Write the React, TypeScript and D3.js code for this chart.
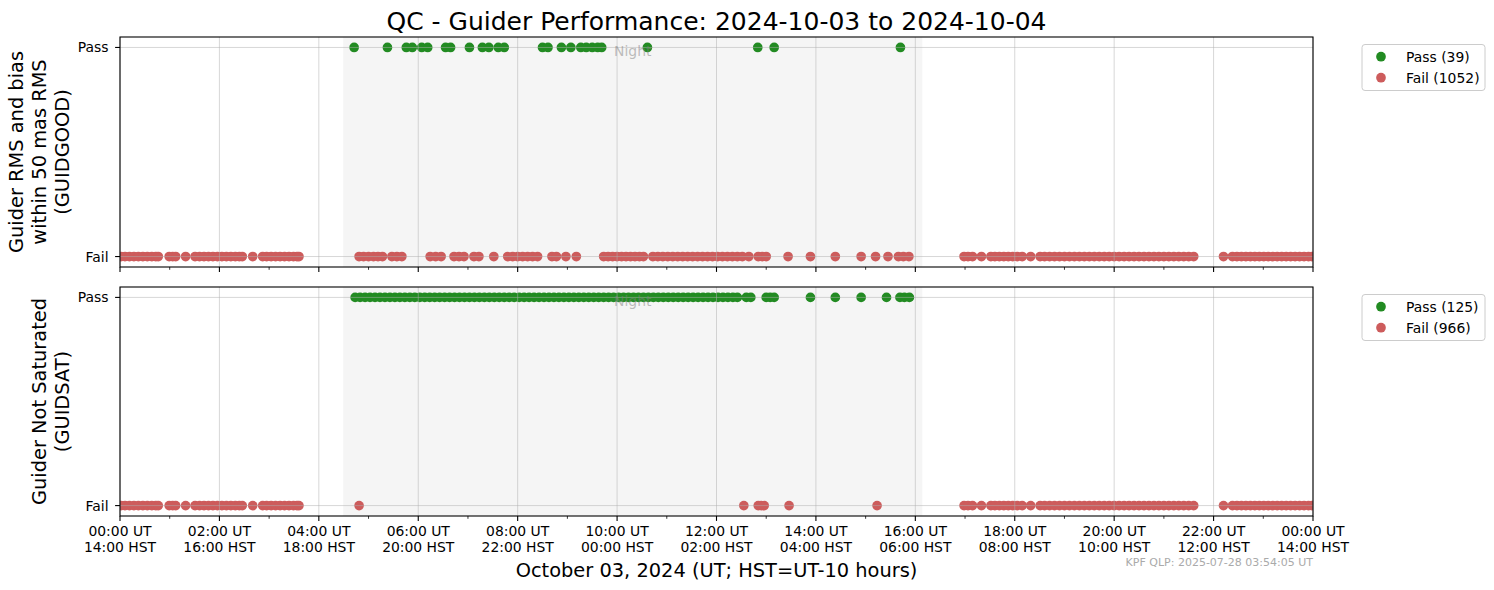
import React from "react";
import * as d3 from "d3";

// Observation times in hours UT (2024-10-03)
// Daytime (dome closed) failures, common to both checks
const dayFailTimes = [
  0.02, 0.1, 0.19, 0.28, 0.37, 0.46, 0.55, 0.64, 0.72, 0.77,
  0.99, 1.06, 1.12, 1.32,
  1.51, 1.6, 1.69, 1.78, 1.87, 1.96, 2.05, 2.14, 2.23, 2.32, 2.4, 2.46,
  2.67,
  2.87, 2.95, 3.04, 3.13, 3.22, 3.31, 3.4, 3.49, 3.56, 3.6,
  16.98, 17.06, 17.15, 17.33,
  17.52, 17.6, 17.69, 17.78, 17.87, 17.96, 18.05, 18.15, 18.32,
  18.51, 18.6, 18.7, 18.8, 18.9, 19.0, 19.1, 19.2, 19.3, 19.4, 19.5, 19.6,
  19.7, 19.8, 19.9, 20.0, 20.1, 20.2, 20.3, 20.4, 20.5, 20.6, 20.7, 20.8,
  20.9, 21.0, 21.1, 21.2, 21.3, 21.4, 21.5, 21.6,
  22.2,
  22.38, 22.47, 22.56, 22.65, 22.74, 22.83, 22.92, 23.01, 23.1, 23.19,
  23.28, 23.37, 23.46, 23.55, 23.64, 23.73, 23.82, 23.91, 23.98,
];

// GUIDGOOD: night-time failures and passes
const goodNightFailTimes = [
  4.81, 4.9, 5.0, 5.1, 5.19, 5.28, 5.47, 5.57, 5.67,
  6.24, 6.35, 6.46, 6.72, 6.82, 6.92, 7.12, 7.22, 7.52,
  7.8, 7.9, 8.0, 8.1, 8.2, 8.3, 8.4, 8.69, 8.78, 8.97, 9.18,
  9.73, 9.82, 9.91, 10.0, 10.09, 10.18, 10.27, 10.36, 10.45, 10.53,
  10.72, 10.82, 10.92, 11.02, 11.12, 11.22, 11.32, 11.42, 11.52, 11.62,
  11.72, 11.82, 11.92, 12.02, 12.12, 12.22, 12.32, 12.42, 12.52, 12.65,
  12.84, 12.92, 13.0, 13.44, 13.89, 14.39, 14.91, 15.2, 15.45,
  15.66, 15.76, 15.87,
];
const goodPassTimes = [
  4.71, 5.38, 5.76, 5.88, 6.07, 6.19, 6.55, 6.65, 7.03,
  7.29, 7.42, 7.61, 7.73, 8.5, 8.61, 8.88, 9.07, 9.27, 9.38, 9.5, 9.61, 9.69,
  10.61, 12.83, 13.16, 15.7,
];

// GUIDSAT: night-time failures and passes
const satNightFailTimes = [4.81, 12.55, 12.84, 12.9, 12.96, 13.46, 15.23];
const satPassTimes = [
  4.73, 4.83, 4.93, 5.03, 5.13, 5.23, 5.33, 5.43, 5.53, 5.63, 5.73, 5.83,
  5.93, 6.03, 6.13, 6.23, 6.33, 6.43, 6.53, 6.63, 6.73, 6.83, 6.93, 7.03,
  7.13, 7.23, 7.33, 7.43, 7.53, 7.63, 7.73, 7.83, 7.93, 8.03, 8.13, 8.23,
  8.33, 8.43, 8.53, 8.63, 8.73, 8.83, 8.93, 9.03, 9.13, 9.23, 9.33, 9.43,
  9.53, 9.63, 9.73, 9.83, 9.93, 10.03, 10.13, 10.23, 10.33, 10.43, 10.53,
  10.63, 10.73, 10.83, 10.93, 11.03, 11.13, 11.23, 11.33, 11.43, 11.53,
  11.63, 11.73, 11.83, 11.93, 12.03, 12.13, 12.23, 12.33, 12.42,
  12.6, 12.69, 13.0, 13.08, 13.16, 13.89, 14.39, 14.91, 15.42,
  15.69, 15.78, 15.88,
];

const nightSpan = [4.49, 16.14];
const panelLabels = [
  ["Guider RMS and bias", "within 50 mas RMS", "(GUIDGOOD)"],
  ["Guider Not Saturated", "(GUIDSAT)"],
];
const passCounts = [39, 125];
const failCounts = [1052, 966];
const yCategories = ["Fail", "Pass"];
const majorTickHours = [0, 2, 4, 6, 8, 10, 12, 14, 16, 18, 20, 22, 24];
const minorTickHours = [1, 3, 5, 7, 9, 11, 13, 15, 17, 19, 21, 23];
const hstOffset = -10;

const FONT = "'DejaVu Sans', Verdana, sans-serif";
const PASS_COLOR = "#228b22";
const FAIL_COLOR = "#cd5c5c";
const GRID = "#b0b0b0";

const pad2 = (n: number) => String(n).padStart(2, "0");

export default function App() {
  const W = 1494, H = 590;
  const left = 120, right = 1313;
  const x = d3.scaleLinear().domain([0, 24]).range([left, right]);
  const panels = [
    { top: 37, bottom: 267, fail: [...dayFailTimes, ...goodNightFailTimes], pass: goodPassTimes },
    { top: 287, bottom: 516, fail: [...dayFailTimes, ...satNightFailTimes], pass: satPassTimes },
  ];
  const r = 4.85;

  return (
    <svg width={W} height={H} viewBox={`0 0 ${W} ${H}`}
      style={{ position: "absolute", left: 0, top: 0, background: "#fff", fontFamily: FONT }}>
      <defs>
        {panels.map((p, i) => (
          <clipPath id={`clip${i}`} key={i}>
            <rect x={left} y={p.top} width={right - left} height={p.bottom - p.top} />
          </clipPath>
        ))}
      </defs>
      <rect x={0} y={0} width={W} height={H} fill="#fff" />
      <text x={(left + right) / 2} y={30} textAnchor="middle" fontSize={25} fill="#000">
        QC - Guider Performance: 2024-10-03 to 2024-10-04
      </text>
      {panels.map((p, i) => {
        const y = d3.scaleLinear().domain([-0.05, 1.05]).range([p.bottom, p.top]);
        const cy = (p.top + p.bottom) / 2;
        const labels = panelLabels[i];
        const n = labels.length;
        const legTop = p.top + 7.5;
        return (
          <g key={i}>
            <rect x={x(nightSpan[0])} y={p.top} width={x(nightSpan[1]) - x(nightSpan[0])}
              height={p.bottom - p.top} fill="#f5f5f5" />
            <g clipPath={`url(#clip${i})`}>
              {p.fail.map((t, k) => (
                <circle key={"f" + k} cx={x(t)} cy={y(0)} r={r} fill={FAIL_COLOR} />
              ))}
              {p.pass.map((t, k) => (
                <circle key={"p" + k} cx={x(t)} cy={y(1)} r={r} fill={PASS_COLOR} />
              ))}
            </g>
            {/* grid */}
            <g stroke={GRID} strokeOpacity={0.5} strokeWidth={1}>
              {majorTickHours.map((h) => (
                <line key={h} x1={x(h)} x2={x(h)} y1={p.top} y2={p.bottom} />
              ))}
              {[0, 1].map((v) => (
                <line key={v} x1={left} x2={right} y1={y(v)} y2={y(v)} />
              ))}
            </g>
            <text x={x((nightSpan[0] + nightSpan[1]) / 2)} y={y(0.985)} textAnchor="middle"
              dominantBaseline="central" fontSize={13.9} fill="#808080" fillOpacity={0.5}>
              Night
            </text>
            {/* frame */}
            <rect x={left} y={p.top} width={right - left} height={p.bottom - p.top}
              fill="none" stroke="#000" strokeWidth={1.1} />
            {/* y ticks */}
            {yCategories.map((c, v) => (
              <g key={c}>
                <line x1={left - 4.9} x2={left} y1={y(v)} y2={y(v)} stroke="#000" strokeWidth={1.1} />
                <text x={left - 11.5} y={y(v)} textAnchor="end" dominantBaseline="central"
                  fontSize={13.9} fill="#000">{c}</text>
              </g>
            ))}
            {/* x ticks */}
            {majorTickHours.map((h) => (
              <line key={"M" + h} x1={x(h)} x2={x(h)} y1={p.bottom} y2={p.bottom + 4.9}
                stroke="#000" strokeWidth={1.1} />
            ))}
            {minorTickHours.map((h) => (
              <line key={"m" + h} x1={x(h)} x2={x(h)} y1={p.bottom} y2={p.bottom + 2.8}
                stroke="#000" strokeWidth={0.8} />
            ))}
            {/* y label */}
            {labels.map((s, k) => {
              const lx = 62 - (n - 1 - k) * 23;
              return (
                <text key={k} transform={`translate(${lx},${cy}) rotate(-90)`} textAnchor="middle"
                  dominantBaseline="central" fontSize={19.4} fill="#000">{s}</text>
              );
            })}
            {/* legend */}
            <rect x={1362} y={legTop} width={123} height={46} rx={3} fill="#fff" fillOpacity={0.8}
              stroke="#cccccc" strokeWidth={1} />
            <circle cx={1381} cy={legTop + 12.2} r={r} fill={PASS_COLOR} />
            <text x={1406} y={legTop + 12.2} dominantBaseline="central" fontSize={13.9} fill="#000">
              {`Pass (${passCounts[i]})`}
            </text>
            <circle cx={1381} cy={legTop + 33.2} r={r} fill={FAIL_COLOR} />
            <text x={1406} y={legTop + 33.2} dominantBaseline="central" fontSize={13.9} fill="#000">
              {`Fail (${failCounts[i]})`}
            </text>
          </g>
        );
      })}
      {/* x tick labels on bottom panel */}
      {majorTickHours.map((h) => {
        const hst = (((h + hstOffset) % 24) + 24) % 24;
        return (
          <text key={h} x={x(h)} textAnchor="middle" fontSize={13.9} fill="#000">
            <tspan x={x(h)} y={535.5}>{`${pad2(h % 24)}:00 UT`}</tspan>
            <tspan x={x(h)} y={551.8}>{`${pad2(hst)}:00 HST`}</tspan>
          </text>
        );
      })}
      <text x={(left + right) / 2} y={576.5} textAnchor="middle" fontSize={19.4} fill="#000">
        October 03, 2024 (UT; HST=UT-10 hours)
      </text>
      <text x={right} y={566} textAnchor="end" fontSize={11} fill="#aaaaaa">
        KPF QLP: 2025-07-28 03:54:05 UT
      </text>
    </svg>
  );
}
